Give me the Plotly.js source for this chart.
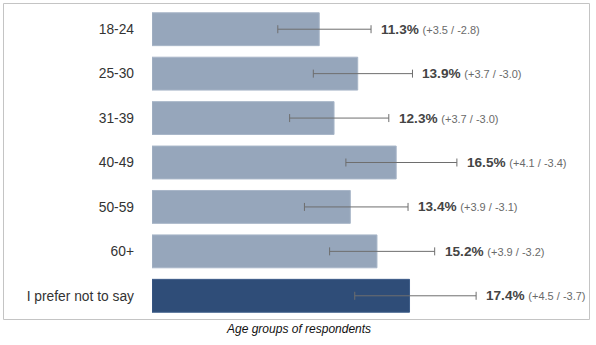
<!DOCTYPE html>
<html>
<head>
<meta charset="utf-8">
<script src="https://cdn.plot.ly/plotly-3.0.1.min.js"></script>
<style>
html,body{margin:0;padding:0;background:#fff;}
#chart{width:596px;height:345px;}
</style>
</head>
<body>
<div id="chart"></div>
<script>
const categories = ["18-24", "25-30", "31-39", "40-49", "50-59", "60+", "I prefer not to say"];
const values = [11.3, 13.9, 12.3, 16.5, 13.4, 15.2, 17.4];
const errPlus = [3.5, 3.7, 3.7, 4.1, 3.9, 3.9, 4.5];
const errMinus = [2.8, 3.0, 3.0, 3.4, 3.1, 3.2, 3.7];
const barColors = ["#96a6bb", "#96a6bb", "#96a6bb", "#96a6bb", "#96a6bb", "#96a6bb", "#2f4d78"];
const barLines = ["#a8b6c8", "#a8b6c8", "#a8b6c8", "#a8b6c8", "#a8b6c8", "#a8b6c8", "#3e5d89"];
const caption = "Age groups of respondents";

const FONT = 'Liberation Sans, Arial, sans-serif';
const W = 596, H = 345, L = 152, R = 7, T = 7, B = 27;
const pw = W - L - R, ph = H - T - B;
const pxPerUnit = 14.8;

const data = [
  {
    type: 'bar', orientation: 'h',
    x: values, y: categories,
    marker: {color: barColors, line: {color: barLines, width: 1}},
    error_x: {type: 'data', symmetric: false, array: errPlus, arrayminus: errMinus,
              color: '#6e6e6e', thickness: 1, width: 4},
    hoverinfo: 'none'
  }
];

const valueAnnotations = values.map((v, i) => ({
  x: v + errPlus[i], y: categories[i], xref: 'x', yref: 'y',
  xanchor: 'left', yanchor: 'middle', xshift: 8, showarrow: false,
  text: '<b>' + v.toFixed(1) + '%</b> <span style="font-size:11px;color:#6a6a6a">(+' +
        errPlus[i].toFixed(1) + ' / -' + errMinus[i].toFixed(1) + ')</span>',
  font: {family: FONT, size: 13.6, color: '#444'}
}));

const layout = {
  width: W, height: H,
  margin: {l: L, r: R, t: T, b: B, pad: 0},
  paper_bgcolor: '#fff', plot_bgcolor: '#fff',
  showlegend: false,
  bargap: 0.26,
  font: {family: FONT, color: '#333'},
  xaxis: {range: [0, pw / pxPerUnit], showgrid: false, zeroline: false,
          showticklabels: false, showline: false, fixedrange: true},
  yaxis: {type: 'category', autorange: 'reversed', showgrid: false, zeroline: false,
          showline: false, ticks: '', ticklabelstandoff: 17,
          tickfont: {family: FONT, size: 13.8, color: '#333'}},
  shapes: [{
    type: 'rect', xref: 'paper', yref: 'paper',
    x0: (3.5 - L) / pw, x1: (589.5 - L) / pw,
    y0: (H - B - 319.5) / ph, y1: (H - B - 3.5) / ph,
    line: {color: '#c4c4c4', width: 1}, fillcolor: 'rgba(0,0,0,0)', layer: 'below'
  }],
  annotations: valueAnnotations.concat([{
    text: '<i>' + caption + '</i>', xref: 'paper', yref: 'paper',
    x: (298 - L) / pw, y: (H - B - 329) / ph, xanchor: 'center', yanchor: 'middle',
    showarrow: false, font: {family: FONT, size: 12, color: '#111'}
  }])
};

Plotly.newPlot('chart', data, layout, {displayModeBar: false, staticPlot: true});
</script>
</body>
</html>
